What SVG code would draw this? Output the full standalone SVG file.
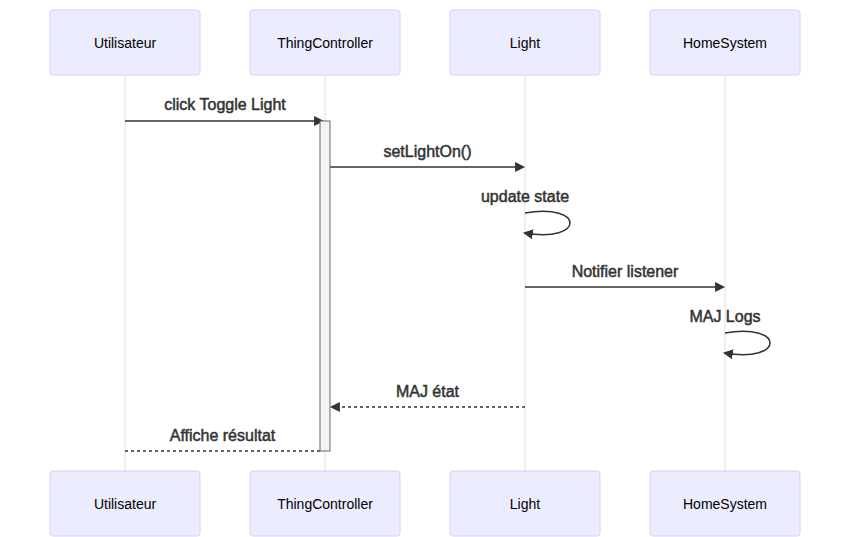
<svg xmlns="http://www.w3.org/2000/svg" width="850" height="537" viewBox="0 0 850 537">
<style>
.actor{fill:#ECECFF;stroke:hsl(259.6,59.8%,87.9%);stroke-width:1}
.atext{font-family:"Liberation Sans",Arial,sans-serif;font-size:14px;fill:#000;text-anchor:middle;dominant-baseline:central}
.life{stroke:#e0e0e0;stroke-width:1}
.msg{stroke:#333;stroke-width:1.5;fill:none}
.dot{stroke-dasharray:3,3}
.mtext{font-family:"Liberation Sans",Arial,sans-serif;font-size:16px;fill:#333;stroke:#333;stroke-width:0.5;text-anchor:middle}
.act{fill:#f4f4f4;stroke:#666;stroke-width:1}
</style>
<defs>
<marker id="arrowhead" refX="7.9" refY="5" markerUnits="userSpaceOnUse" markerWidth="12" markerHeight="12" orient="auto">
<path d="M 0 0 L 10 5 L 0 10 z" fill="#333"/>
</marker>
</defs>
<rect width="850" height="537" fill="#fff"/>
<g id="lifelines">
<line class="life" x1="125" y1="75" x2="125" y2="471"/>
<line class="life" x1="325" y1="75" x2="325" y2="471"/>
<line class="life" x1="525" y1="75" x2="525" y2="471"/>
<line class="life" x1="725" y1="75" x2="725" y2="471"/>
</g>
<g id="actor-Utilisateur-top"><rect class="actor" x="50" y="10" width="150" height="65" rx="3"/><text class="atext" x="125" y="43">Utilisateur</text></g>
<g id="actor-ThingController-top"><rect class="actor" x="250" y="10" width="150" height="65" rx="3"/><text class="atext" x="325" y="43">ThingController</text></g>
<g id="actor-Light-top"><rect class="actor" x="450" y="10" width="150" height="65" rx="3"/><text class="atext" x="525" y="43">Light</text></g>
<g id="actor-HomeSystem-top"><rect class="actor" x="650" y="10" width="150" height="65" rx="3"/><text class="atext" x="725" y="43">HomeSystem</text></g>
<g id="connectors">
<line class="msg" x1="125" y1="121" x2="322" y2="121" marker-end="url(#arrowhead)"/>
<line class="msg" x1="330" y1="167" x2="523" y2="167" marker-end="url(#arrowhead)"/>
<path class="msg" d="M 525,213 C 585,203 585,243 525,233" marker-end="url(#arrowhead)"/>
<line class="msg" x1="525" y1="287" x2="723" y2="287" marker-end="url(#arrowhead)"/>
<path class="msg" d="M 725,333 C 785,323 785,363 725,353" marker-end="url(#arrowhead)"/>
<line class="msg dot" x1="525" y1="407" x2="332" y2="407" marker-end="url(#arrowhead)"/>
<line class="msg dot" x1="320" y1="451" x2="125" y2="451"/>
</g>
<g id="activation-ThingController"><rect class="act" x="320" y="121" width="10" height="330"/></g>
<g id="labels">
<text class="mtext" x="225" y="110">click Toggle Light</text>
<text class="mtext" x="427.5" y="157">setLightOn()</text>
<text class="mtext" x="525" y="202">update state</text>
<text class="mtext" x="625" y="277">Notifier listener</text>
<text class="mtext" x="725" y="322">MAJ Logs</text>
<text class="mtext" x="427.5" y="397">MAJ état</text>
<text class="mtext" x="222.5" y="441">Affiche résultat</text>
</g>
<g id="actor-Utilisateur-bottom"><rect class="actor" x="50" y="471" width="150" height="65" rx="3"/><text class="atext" x="125" y="504">Utilisateur</text></g>
<g id="actor-ThingController-bottom"><rect class="actor" x="250" y="471" width="150" height="65" rx="3"/><text class="atext" x="325" y="504">ThingController</text></g>
<g id="actor-Light-bottom"><rect class="actor" x="450" y="471" width="150" height="65" rx="3"/><text class="atext" x="525" y="504">Light</text></g>
<g id="actor-HomeSystem-bottom"><rect class="actor" x="650" y="471" width="150" height="65" rx="3"/><text class="atext" x="725" y="504">HomeSystem</text></g>
</svg>
